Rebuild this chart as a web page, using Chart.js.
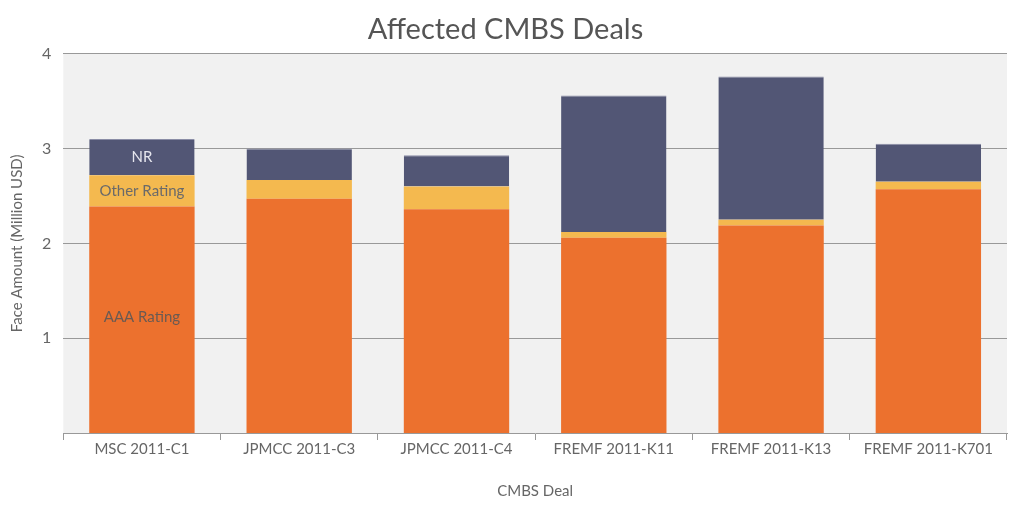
<!DOCTYPE html>
<html>
<head>
<meta charset="utf-8">
<script src="https://cdn.jsdelivr.net/npm/chart.js@4/dist/chart.umd.min.js"></script>
<style>
  html, body { margin: 0; padding: 0; background: #fff; }
  #wrap { width: 1024px; height: 511px; }
</style>
</head>
<body>
<div id="wrap"><canvas id="cmbs"></canvas></div>
<script>
var deals = ["MSC 2011-C1", "JPMCC 2011-C3", "JPMCC 2011-C4", "FREMF 2011-K11", "FREMF 2011-K13", "FREMF 2011-K701"];
var aaaRating = [2.39, 2.47, 2.36, 2.06, 2.19, 2.57];
var otherRating = [0.33, 0.20, 0.24, 0.06, 0.06, 0.08];
var notRated = [0.38, 0.33, 0.33, 1.44, 1.51, 0.40];
var yTicks = [1, 2, 3, 4];

var fontName = "Lato, 'Open Sans', sans-serif";

// grey plot background
var plotBg = {
  id: "plotBg",
  beforeDraw: function(chart) {
    var a = chart.chartArea, ctx = chart.ctx;
    ctx.save();
    ctx.fillStyle = "#f1f1f1";
    ctx.fillRect(a.left, a.top, a.right - a.left, a.bottom - a.top);
    ctx.restore();
  }
};

// series names written inside the first bar
var firstBarLabels = {
  id: "firstBarLabels",
  afterDatasetsDraw: function(chart) {
    var ctx = chart.ctx;
    var colors = ["#6a5a52", "#6a6a6a", "#e6e6ee"];
    ctx.save();
    ctx.font = "15px " + fontName;
    ctx.textAlign = "center";
    ctx.textBaseline = "middle";
    chart.data.datasets.forEach(function(ds, i) {
      var bar = chart.getDatasetMeta(i).data[0];
      var y = i == 0 ? bar.y + (bar.base - bar.y) * 0.49 : (bar.y + bar.base) / 2;
      ctx.fillStyle = colors[i];
      ctx.fillText(ds.label, bar.x, y);
    });
    ctx.restore();
  }
};

var ctx = document.getElementById("cmbs").getContext("2d");
var chart = new Chart(ctx, {
  type: "bar",
  data: {
    labels: deals,
    datasets: [
      { label: "AAA Rating", data: aaaRating, backgroundColor: "#ec712e" },
      { label: "Other Rating", data: otherRating, backgroundColor: "#f4b94f" },
      { label: "NR", data: notRated, backgroundColor: "#525675", borderColor: "#8a8da6", borderWidth: { top: 1 } }
    ]
  },
  options: {
    responsive: true,
    maintainAspectRatio: false,
    animation: false,
    barPercentage: 0.67,
    categoryPercentage: 1,
    layout: { padding: { left: 4, right: 17, top: 0, bottom: 7 } },
    plugins: {
      legend: { display: false },
      tooltip: { enabled: false },
      title: {
        display: true,
        text: "Affected CMBS Deals",
        color: "#555",
        font: { family: fontName, size: 29, weight: "normal" },
        padding: { top: 12, bottom: 7 }
      }
    },
    scales: {
      x: {
        stacked: true,
        grid: { drawOnChartArea: false, offset: true, tickLength: 7, color: "#999" },
        border: { color: "#999" },
        ticks: { color: "#666", font: { family: fontName, size: 15 }, padding: 0 },
        title: {
          display: true,
          text: "CMBS Deal",
          color: "#666",
          font: { family: fontName, size: 15 },
          padding: { top: 24 }
        }
      },
      y: {
        stacked: true,
        min: 0,
        max: 4,
        afterBuildTicks: function(axis) {
          axis.ticks = yTicks.map(function(v) { return { value: v }; });
        },
        grid: { color: "#999", drawTicks: false },
        border: { display: false },
        ticks: { color: "#666", font: { family: fontName, size: 16 }, padding: 12 },
        title: {
          display: true,
          text: "Face Amount (Million USD)",
          color: "#666",
          font: { family: fontName, size: 15 },
          padding: { bottom: 4 }
        }
      }
    }
  },
  plugins: [plotBg, firstBarLabels]
});
</script>
</body>
</html>
